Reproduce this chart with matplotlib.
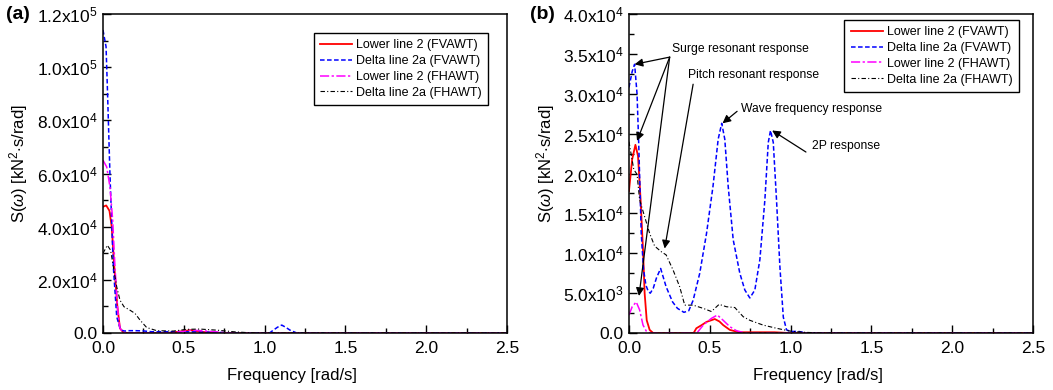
import numpy as np
import matplotlib
matplotlib.use("Agg")
import matplotlib.pyplot as plt
from matplotlib.ticker import MultipleLocator

plt.rcParams['font.family'] = ['Liberation Sans', 'DejaVu Sans']
plt.rcParams['mathtext.fontset'] = 'custom'
plt.rcParams['mathtext.rm'] = 'Liberation Sans'
plt.rcParams['mathtext.it'] = 'Liberation Sans:italic'

# ---- panel (a) data ----
a_blue_x = [0, 0.019, 0.027, 0.043, 0.064, 0.085, 0.109, 0.136, 0.15, 0.2, 0.25, 0.3, 0.4, 0.5, 0.6, 0.7, 0.8,
            1.03, 1.054, 1.08, 1.106, 1.13, 1.157, 1.2, 1.5, 2.0, 2.5]
a_blue_y = [114000, 107700, 92700, 60000, 25000, 6100, 1100, 750, 900, 900, 800, 500, 500, 500, 400, 300, 0,
            0, 1100, 2200, 3000, 2200, 1100, 0, 0, 0, 0]

a_red_x = [0, 0.02, 0.04, 0.054, 0.07, 0.089, 0.105, 0.126, 0.15, 0.4, 0.5, 0.54, 0.6, 0.7, 2.5]
a_red_y = [47500, 48000, 46000, 40000, 25000, 10000, 1800, 250, 0, 0, 750, 1100, 500, 0, 0]

a_mag_x = [0, 0.023, 0.043, 0.06, 0.074, 0.091, 0.105, 0.126, 0.15, 0.4, 0.48, 0.55, 0.64, 0.77, 0.85, 2.5]
a_mag_y = [65000, 62500, 55000, 42500, 25000, 8700, 1800, 250, 0, 0, 500, 1100, 750, 100, 0, 0]

a_blk_x = [0, 0.027, 0.047, 0.064, 0.085, 0.105, 0.13, 0.167, 0.198, 0.229, 0.27, 0.332, 0.435, 0.518, 0.6,
           0.703, 0.807, 0.91, 1.0, 2.5]
a_blk_y = [30000, 33000, 31200, 25000, 17400, 12400, 9900, 8600, 7400, 4900, 2100, 900, 750, 1400, 1500,
           1100, 500, 100, 0, 0]

# ---- panel (b) data ----
b_blue_x = [0, 0.02, 0.035, 0.05, 0.06, 0.076, 0.09, 0.105, 0.12, 0.132, 0.15, 0.17, 0.196, 0.23, 0.27, 0.3,
            0.34, 0.37, 0.397, 0.438, 0.48, 0.52, 0.552, 0.574, 0.593, 0.614, 0.645, 0.686, 0.717, 0.748,
            0.779, 0.81, 0.841, 0.862, 0.876, 0.893, 0.913, 0.934, 0.955, 0.975, 1.0, 1.05, 1.1, 1.5, 2.0, 2.5]
b_blue_y = [30800, 32800, 33700, 30000, 24000, 12500, 8000, 6000, 5200, 5000, 5600, 6900, 8100, 5800, 3900,
            3100, 2600, 2800, 4100, 7500, 12500, 18400, 24300, 26300, 24300, 18400, 11700, 7500, 5400, 4400,
            5400, 9200, 16700, 23900, 25400, 23900, 16700, 8300, 2000, 400, 200, 200, 0, 0, 0, 0]

b_red_x = [0, 0.02, 0.04, 0.056, 0.072, 0.087, 0.097, 0.11, 0.128, 0.15, 0.4, 0.417, 0.45, 0.48, 0.531, 0.56,
           0.583, 0.624, 0.68, 0.9, 1.0, 2.5]
b_red_y = [17800, 21800, 23600, 22200, 16700, 10400, 5000, 1600, 400, 0, 0, 600, 1000, 1400, 1760, 1450,
           1000, 400, 100, 100, 0, 0]

b_mag_x = [0, 0.02, 0.045, 0.066, 0.087, 0.107, 0.13, 0.42, 0.46, 0.51, 0.547, 0.583, 0.624, 0.665, 0.72, 2.5]
b_mag_y = [2260, 3300, 3900, 2900, 1000, 250, 0, 0, 1000, 1840, 2260, 1600, 800, 300, 0, 0]

b_blk_x = [0, 0.03, 0.05, 0.066, 0.097, 0.128, 0.159, 0.2, 0.23, 0.273, 0.314, 0.345, 0.397, 0.459, 0.51,
           0.558, 0.603, 0.655, 0.707, 0.748, 0.83, 0.913, 0.996, 1.08, 1.2, 2.5]
b_blk_y = [24000, 20500, 19900, 16700, 14600, 12500, 10900, 10200, 9800, 7900, 5800, 3500, 3500, 3100, 2700,
           3600, 3300, 3200, 2050, 1600, 1000, 600, 250, 100, 0, 0]

labels = ['Lower line 2 (FVAWT)', 'Delta line 2a (FVAWT)', 'Lower line 2 (FHAWT)', 'Delta line 2a (FHAWT)']

a_yticks = [0, 20000, 40000, 60000, 80000, 100000, 120000]
a_yticklabels = ['0.0', r'2.0x10$^4$', r'4.0x10$^4$', r'6.0x10$^4$', r'8.0x10$^4$', r'1.0x10$^5$', r'1.2x10$^5$']
b_yticks = [0, 5000, 10000, 15000, 20000, 25000, 30000, 35000, 40000]
b_yticklabels = ['0.0', r'5.0x10$^3$', r'1.0x10$^4$', r'1.5x10$^4$', r'2.0x10$^4$', r'2.5x10$^4$',
                 r'3.0x10$^4$', r'3.5x10$^4$', r'4.0x10$^4$']
xticks = [0, 0.5, 1.0, 1.5, 2.0, 2.5]


def draw_panel(ax, series, yticks, yticklabels, ymax, ylim_minor, legend_loc):
    styles = [
        dict(color='#ff0000', lw=1.3, ls='-'),
        dict(color='#0000ff', lw=1.1, ls=(0, (3, 1.6))),
        dict(color='#ff00ff', lw=1.1, ls=(0, (6, 1.6, 1.5, 1.6))),
        dict(color='#000000', lw=0.8, ls=(0, (4, 2, 1, 2))),
    ]
    for (x, y), st, lab in zip(series, styles, labels):
        ax.plot(x, y, label=lab, **st)
    ax.set_xlim(0, 2.5)
    ax.set_ylim(0, ymax)
    ax.set_xticks(xticks)
    ax.set_xticklabels(['%.1f' % t for t in xticks])
    ax.xaxis.set_minor_locator(MultipleLocator(0.25))
    ax.set_yticks(yticks)
    ax.set_yticklabels(yticklabels)
    ax.yaxis.set_minor_locator(MultipleLocator(ylim_minor))
    ax.tick_params(which='both', direction='in', top=False, right=False, labelsize=12.5, width=1.0)
    ax.tick_params(axis='x', pad=6)
    ax.tick_params(axis='y', pad=4)
    ax.tick_params(which='major', length=5.5)
    ax.tick_params(which='minor', length=3.5)
    for s in ax.spines.values():
        s.set_linewidth(1.1)
    ax.set_xlabel('Frequency [rad/s]', fontsize=12)
    ax.set_ylabel(r'S($\omega$) [kN$^2$$\cdot$s/rad]', fontsize=12)
    ax.xaxis.set_label_coords(0.468, -0.108)
    leg = ax.legend(loc='upper right', bbox_to_anchor=legend_loc, fontsize=9, handlelength=2.6,
                    handletextpad=0.3, labelspacing=0.3, borderpad=0.5, borderaxespad=0,
                    fancybox=False, framealpha=1)
    leg.get_frame().set_edgecolor('black')
    leg.get_frame().set_linewidth(1.0)


fig = plt.figure(figsize=(10.53, 3.9), dpi=100)
ax1 = fig.add_axes([0.0978, 0.146, 0.3837, 0.818])
ax2 = fig.add_axes([0.5973, 0.146, 0.3837, 0.818])

draw_panel(ax1, [(a_red_x, a_red_y), (a_blue_x, a_blue_y), (a_mag_x, a_mag_y), (a_blk_x, a_blk_y)],
           a_yticks, a_yticklabels, 120000, 10000, (0.953, 0.94))
draw_panel(ax2, [(b_red_x, b_red_y), (b_blue_x, b_blue_y), (b_mag_x, b_mag_y), (b_blk_x, b_blk_y)],
           b_yticks, b_yticklabels, 40000, 2500, (0.965, 0.981))
ax1.yaxis.set_label_coords(-0.18, 0.53)
ax2.yaxis.set_label_coords(-0.178, 0.53)

# annotations in panel (b)
akw = dict(arrowstyle='-|>', color='black', lw=0.9, mutation_scale=12, shrinkA=0, shrinkB=0)
for tgt in [(0.035, 33700), (0.05, 24100), (0.062, 4650)]:
    ax2.annotate('', xy=tgt, xytext=(0.252, 34600), arrowprops=akw)
ax2.text(0.266, 35600, 'Surge resonant response', fontsize=8.7, va='center', ha='left')
ax2.annotate('', xy=(0.221, 10600), xytext=(0.397, 31200), arrowprops=akw)
ax2.text(0.366, 32300, 'Pitch resonant response', fontsize=8.7, va='center', ha='left')
ax2.annotate('', xy=(0.579, 26300), xytext=(0.669, 27800), arrowprops=akw)
ax2.text(0.695, 28050, 'Wave frequency response', fontsize=8.7, va='center', ha='left')
ax2.annotate('', xy=(0.886, 25400), xytext=(1.095, 22700), arrowprops=akw)
ax2.text(1.134, 23400, '2P response', fontsize=8.7, va='center', ha='left')

fig.text(0.006, 0.962, '(a)', fontsize=14, fontweight='bold', va='center', ha='left')
fig.text(0.503, 0.962, '(b)', fontsize=14, fontweight='bold', va='center', ha='left')

fig.savefig('out.png', dpi=100)
